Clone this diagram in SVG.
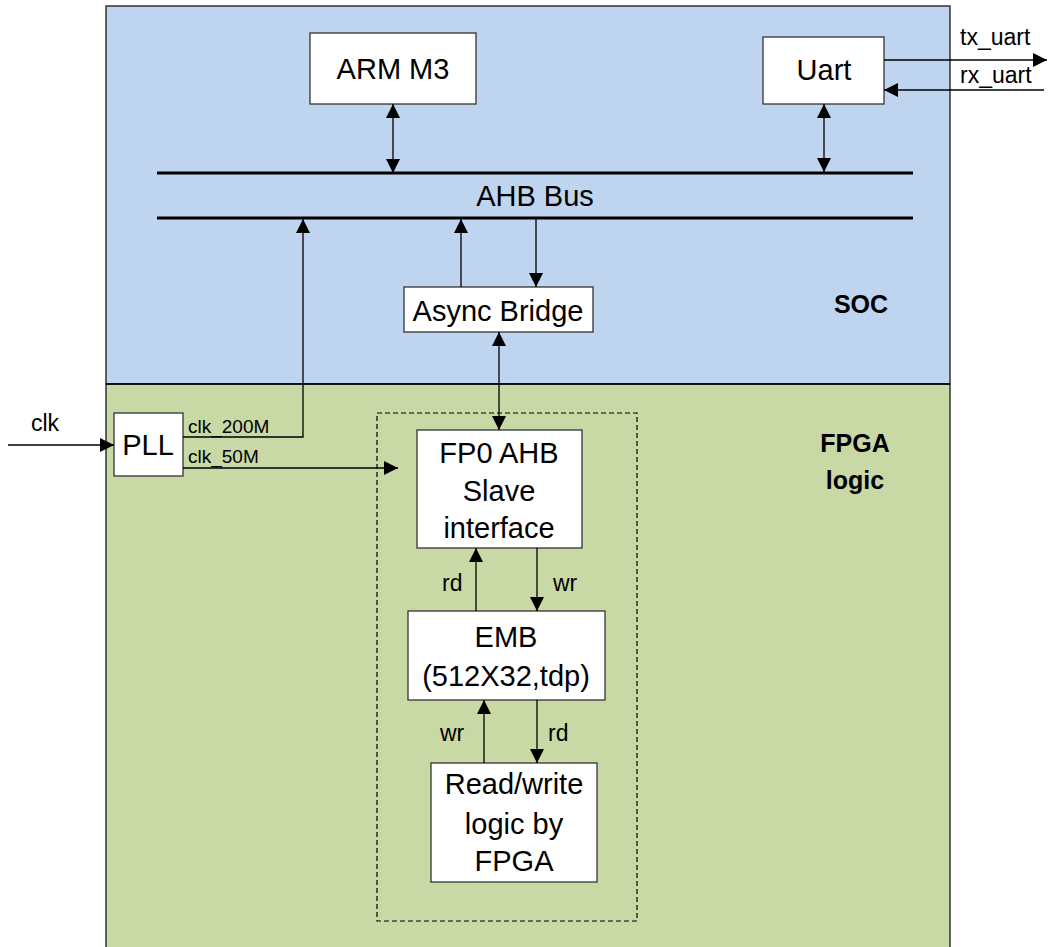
<svg xmlns="http://www.w3.org/2000/svg" width="1049" height="947" viewBox="0 0 1049 947">
<defs>
<marker id="ah" markerUnits="userSpaceOnUse" markerWidth="14" markerHeight="14" viewBox="0 0 14 14" refX="14" refY="7" orient="auto-start-reverse">
<path d="M0,0 L14,7 L0,14 Z" fill="#000"/>
</marker>
<style>
.box{fill:#fff;stroke:#333;stroke-width:1.3}
.t{font-family:"Liberation Sans",Arial,sans-serif;font-size:29px;fill:#000;text-anchor:middle}
.s{font-family:"Liberation Sans",Arial,sans-serif;font-size:23px;fill:#000}
.xs{font-family:"Liberation Sans",Arial,sans-serif;font-size:19px;fill:#000}
.b{font-family:"Liberation Sans",Arial,sans-serif;font-size:25px;font-weight:bold;fill:#000;text-anchor:middle}
.c{fill:none;stroke:#000;stroke-width:1.3}
</style>
</defs>
<rect width="1049" height="947" fill="#fff"/>
<g id="soc">
<rect x="106" y="6" width="844" height="378" fill="#BFD4EE" stroke="#333" stroke-width="1.5"/>
<text class="b" x="861" y="313">SOC</text>
</g>
<g id="fpga">
<rect x="106" y="384" width="844" height="570" fill="#C8D9A6" stroke="#333" stroke-width="1.5"/>
<line x1="106" y1="384" x2="950" y2="384" stroke="#000" stroke-width="1.5"/>
<text class="b" x="855" y="452">FPGA</text>
<text class="b" x="855" y="489">logic</text>
</g>
<g id="dashed">
<rect x="377" y="413" width="260" height="508" fill="none" stroke="#000" stroke-width="1.2" stroke-dasharray="5,3"/>
</g>
<g id="bus">
<line x1="157" y1="173" x2="913" y2="173" stroke="#000" stroke-width="3"/>
<line x1="157" y1="218" x2="913" y2="218" stroke="#000" stroke-width="3"/>
<text class="t" x="535" y="206">AHB Bus</text>
</g>
<g id="arm">
<rect class="box" x="310" y="33" width="166" height="71"/>
<text class="t" x="393" y="79">ARM M3</text>
</g>
<g id="uart">
<rect class="box" x="763" y="37" width="121" height="67"/>
<text class="t" x="824" y="80">Uart</text>
</g>
<g id="bridge">
<rect class="box" x="404" y="287" width="189" height="45"/>
<text class="t" x="498" y="321">Async Bridge</text>
</g>
<g id="pll">
<rect class="box" x="114" y="413" width="69" height="63"/>
<text class="t" x="148" y="455">PLL</text>
</g>
<g id="fp0">
<rect class="box" x="417" y="430" width="165" height="118"/>
<text class="t" x="499" y="463">FP0 AHB</text>
<text class="t" x="499" y="501">Slave</text>
<text class="t" x="499" y="538">interface</text>
</g>
<g id="emb">
<rect class="box" x="408" y="611" width="197" height="89"/>
<text class="t" x="506" y="647">EMB</text>
<text class="t" x="506" y="686">(512X32,tdp)</text>
</g>
<g id="rwlogic">
<rect class="box" x="431" y="763" width="166" height="119"/>
<text class="t" x="514" y="794">Read/write</text>
<text class="t" x="514" y="834">logic by</text>
<text class="t" x="514" y="871">FPGA</text>
</g>
<g id="connectors">
<line class="c" x1="393" y1="104" x2="393" y2="173" marker-start="url(#ah)" marker-end="url(#ah)"/>
<line class="c" x1="824" y1="104" x2="824" y2="172" marker-start="url(#ah)" marker-end="url(#ah)"/>
<line class="c" x1="884" y1="60" x2="1047" y2="60" marker-end="url(#ah)"/>
<line class="c" x1="1044" y1="90" x2="884" y2="90" marker-end="url(#ah)"/>
<line class="c" x1="461" y1="287" x2="461" y2="219" marker-end="url(#ah)"/>
<line class="c" x1="536" y1="219" x2="536" y2="287" marker-end="url(#ah)"/>
<line class="c" x1="499" y1="332" x2="499" y2="430" marker-start="url(#ah)" marker-end="url(#ah)"/>
<line class="c" x1="8" y1="445" x2="114" y2="445" marker-end="url(#ah)"/>
<polyline class="c" points="183,437 303,437 303,219" marker-end="url(#ah)"/>
<line class="c" x1="183" y1="468" x2="398" y2="468" marker-end="url(#ah)"/>
<line class="c" x1="476" y1="611" x2="476" y2="548" marker-end="url(#ah)"/>
<line class="c" x1="537" y1="548" x2="537" y2="611" marker-end="url(#ah)"/>
<line class="c" x1="484" y1="763" x2="484" y2="700" marker-end="url(#ah)"/>
<line class="c" x1="537" y1="700" x2="537" y2="763" marker-end="url(#ah)"/>
</g>
<g id="labels">
<text class="s" x="960" y="45">tx_uart</text>
<text class="s" x="960" y="83">rx_uart</text>
<text class="s" x="31" y="431">clk</text>
<text class="xs" x="188" y="433">clk_200M</text>
<text class="xs" x="188" y="463">clk_50M</text>
<text class="s" x="442" y="591">rd</text>
<text class="s" x="553" y="591">wr</text>
<text class="s" x="440" y="741">wr</text>
<text class="s" x="548" y="741">rd</text>
</g>
</svg>
